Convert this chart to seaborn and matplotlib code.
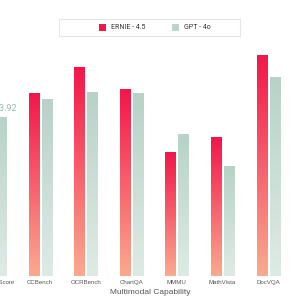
import numpy as np
import pandas as pd
import matplotlib
matplotlib.use("Agg")
import matplotlib.pyplot as plt
from matplotlib.colors import LinearSegmentedColormap
from matplotlib.patches import Rectangle
import seaborn as sns

categories = ["Average Score", "CCBench", "OCRBench", "ChartQA", "MMMU", "MathVista", "DocVQA"]
ernie = [77.0, 79.2, 84.6, 79.9, 66.4, 69.6, 87.2]
gpt = [73.92, 77.8, 79.4, 79.0, 70.3, 63.5, 82.5]
series = ["ERNIE - 4.5", "GPT - 4o"]

df = pd.DataFrame({
    "cat": categories * 2,
    "val": ernie + gpt,
    "model": [series[0]] * len(categories) + [series[1]] * len(categories),
})

sns.set_theme(style="white")
plt.rcParams["font.family"] = ["Liberation Sans", "DejaVu Sans"]
narrow = ["Liberation Sans Narrow", "Roboto", "DejaVu Sans"]

YMIN, YMAX = 40, 98.98
PX = 45.6  # pixels per category

fig = plt.figure(figsize=(3, 3), dpi=100)
ax = fig.add_axes([-60 / 300, 0.08, 420 / 300, 0.92])

sns.barplot(data=df, x="cat", y="val", hue="model", order=categories,
            hue_order=series, width=0.57, gap=0.23, legend=False,
            palette=["#F2164A", "#BCD4CB"], ax=ax)

grads = [("#F2164A", "#FBAA8F"), ("#B8D2C7", "#DEEBE5")]
for cont, (ctop, cbot) in zip(ax.containers, grads):
    cmap = LinearSegmentedColormap.from_list("g", [cbot, ctop])
    for p in cont.patches:
        x0, w = p.get_x(), p.get_width()
        top = p.get_y() + p.get_height()
        clip = Rectangle((x0, YMIN), w, top - YMIN, transform=ax.transData,
                         facecolor="none", edgecolor="none")
        ax.add_patch(clip)
        grad = np.linspace(1, 0, 256).reshape(-1, 1)
        im = ax.imshow(grad, cmap=cmap, aspect="auto",
                       extent=[x0, x0 + w, YMIN, top], zorder=2)
        im.set_clip_path(clip)
        p.set_visible(False)

# value label on first GPT bar
p = ax.containers[1].patches[0]
ax.text(p.get_x() + p.get_width() / 2 + 0.1, gpt[0] + 1.0, f"{gpt[0]:.2f}",
        ha="center", va="bottom", fontsize=6.5, color="#98BBAE", family=narrow)

ax.set_xlim((-60 + 5.5) / PX, (360 + 5.5) / PX)
ax.set_ylim(YMIN, YMAX)
for s in ax.spines.values():
    s.set_visible(False)
ax.set_yticks([])
ax.tick_params(axis="x", length=0, pad=3, labelsize=4.4, labelcolor="#555555")
ax.set_xlabel("")
ax.set_ylabel("")
fig.text(0.5, 1 - 292 / 300, "Multimodal Capability", ha="center", va="center",
         fontsize=6, color="#555555")

# legend
frame = Rectangle((59 / 300, 1 - 36 / 300), 181 / 300, 17 / 300, transform=fig.transFigure,
                  facecolor="white", edgecolor="#E6E6E6", linewidth=0.8, zorder=5)
fig.patches.append(frame)
for (xs, col, lab) in [(99, "#F2164A", series[0]), (172, "#BCD4CB", series[1])]:
    sq = Rectangle((xs / 300, 1 - 31 / 300), 7 / 300, 7 / 300, transform=fig.transFigure,
                   facecolor=col, edgecolor="none", zorder=6)
    fig.patches.append(sq)
    fig.text((xs + 12) / 300, 1 - 27.5 / 300, lab, ha="left", va="center",
             fontsize=5, color="#333333", family=narrow, zorder=7)

fig.savefig("out.png", dpi=100)
